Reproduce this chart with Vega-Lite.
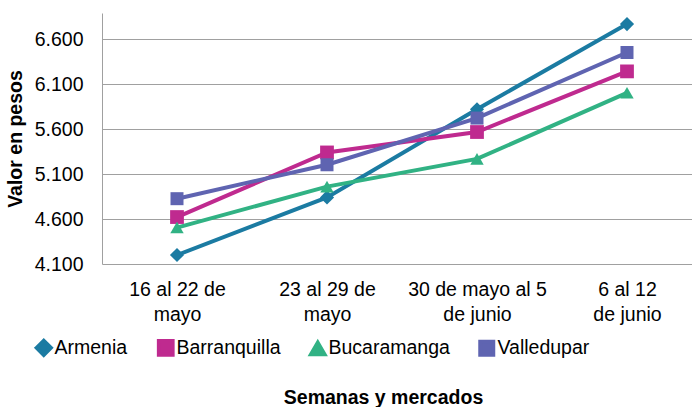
{
  "$schema": "https://vega.github.io/schema/vega-lite/v6.json",
  "width": 600,
  "height": 251,
  "autosize": {"type": "pad"},
  "padding": {"left": 5, "top": 13, "right": 0, "bottom": 0},
  "background": "white",
  "config": {
    "font": "Liberation Sans",
    "view": {"stroke": null},
    "axis": {"labelColor": "#000000", "titleColor": "#000000", "labelFontSize": 19.5, "titleFontSize": 19.5, "titleFontWeight": "bold", "ticks": false, "gridColor": "#a0a0a0", "domainColor": "#a0a0a0", "gridWidth": 1}
  },
  "data": {
    "values": [
      {"semana": "16 al 22 de|mayo", "mercado": "Armenia", "valor": 4200},
      {"semana": "23 al 29 de|mayo", "mercado": "Armenia", "valor": 4840},
      {"semana": "30 de mayo al 5|de junio", "mercado": "Armenia", "valor": 5820},
      {"semana": "6 al 12|de junio", "mercado": "Armenia", "valor": 6767},
      {"semana": "16 al 22 de|mayo", "mercado": "Barranquilla", "valor": 4622},
      {"semana": "23 al 29 de|mayo", "mercado": "Barranquilla", "valor": 5340},
      {"semana": "30 de mayo al 5|de junio", "mercado": "Barranquilla", "valor": 5567},
      {"semana": "6 al 12|de junio", "mercado": "Barranquilla", "valor": 6241},
      {"semana": "16 al 22 de|mayo", "mercado": "Bucaramanga", "valor": 4505},
      {"semana": "23 al 29 de|mayo", "mercado": "Bucaramanga", "valor": 4960},
      {"semana": "30 de mayo al 5|de junio", "mercado": "Bucaramanga", "valor": 5268},
      {"semana": "6 al 12|de junio", "mercado": "Bucaramanga", "valor": 6003},
      {"semana": "16 al 22 de|mayo", "mercado": "Valledupar", "valor": 4826},
      {"semana": "23 al 29 de|mayo", "mercado": "Valledupar", "valor": 5203},
      {"semana": "30 de mayo al 5|de junio", "mercado": "Valledupar", "valor": 5722},
      {"semana": "6 al 12|de junio", "mercado": "Valledupar", "valor": 6451}
    ]
  },
  "encoding": {
    "x": {
      "field": "semana", "type": "nominal",
      "scale": {"type": "point", "padding": 0.5, "domain": ["16 al 22 de|mayo", "23 al 29 de|mayo", "30 de mayo al 5|de junio", "6 al 12|de junio"]},
      "axis": {"title": "Semanas y mercados", "labelAngle": 0, "labelExpr": "split(datum.label, '|')", "labelLineHeight": 25, "labelPadding": 16, "domain": false, "grid": false, "titleX": 281, "titleY": 124, "titleAnchor": "middle"}
    },
    "y": {
      "field": "valor", "type": "quantitative",
      "scale": {"domain": [4100, 6890], "nice": false, "zero": false},
      "axis": {"values": [4100, 4600, 5100, 5600, 6100, 6600], "labelExpr": "replace(format(datum.value, ',d'), ',', '.')", "labelPadding": 19, "title": "Valor en pesos", "titlePadding": 9, "grid": true, "domain": true}
    }
  },
  "layer": [
    {
      "mark": {"type": "line", "strokeWidth": 4},
      "encoding": {
        "color": {
          "field": "mercado", "type": "nominal",
          "scale": {"domain": ["Armenia", "Barranquilla", "Bucaramanga", "Valledupar"], "range": ["#1b7ba2", "#bf2a8f", "#31b284", "#5f64b1"]},
          "legend": {
            "title": null, "orient": "none", "direction": "horizontal", "legendX": -68, "legendY": 325,
            "symbolType": "M-1,0L1,0M-0.2,-0.2L0.2,-0.2L0.2,0.2L-0.2,0.2Z",
            "symbolSize": 1600, "symbolStrokeWidth": 4, "labelFontSize": 19.5, "labelColor": "#000000", "labelOffset": 1, "columnPadding": 22
          }
        }
      }
    },
    {
      "mark": {"type": "point", "filled": true, "opacity": 1, "size": 180},
      "encoding": {
        "color": {"field": "mercado", "type": "nominal", "legend": null},
        "shape": {
          "field": "mercado", "type": "nominal",
          "scale": {"domain": ["Armenia", "Barranquilla", "Bucaramanga", "Valledupar"], "range": ["diamond", "square", "triangle-up", "square"]},
          "legend": null
        },
        "size": {
          "field": "mercado", "type": "nominal",
          "scale": {"domain": ["Armenia", "Barranquilla", "Bucaramanga", "Valledupar"], "range": [200, 169, 230, 169]},
          "legend": null
        }
      }
    }
  ]
}
